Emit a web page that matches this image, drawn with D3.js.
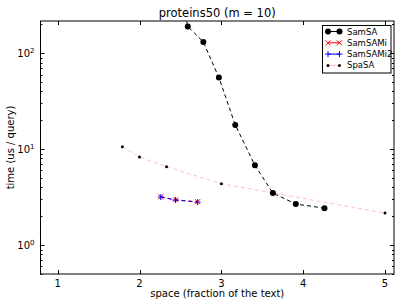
<!DOCTYPE html>
<html>
<head>
<meta charset="utf-8">
<script src="https://cdn.jsdelivr.net/npm/d3@7"></script>
<style>
  body { margin: 0; background: #fff; }
  text { font-family: "DejaVu Sans", sans-serif; fill: #000; }
</style>
</head>
<body>
<div id="chart"></div>
<script>
// ---- Data ----
var samSA_x    = [2.54, 2.59, 2.78, 2.97, 3.17, 3.41, 3.63, 3.91, 4.26];
var samSA_y    = [300, 190, 131, 56, 17.9, 6.8, 3.49, 2.68, 2.43];
var samSAMi_x  = [2.26, 2.44, 2.71];
var samSAMi_y  = [3.19, 2.97, 2.83];
var samSAMi2_x = [2.26, 2.44, 2.71];
var samSAMi2_y = [3.17, 2.95, 2.81];
var spaSA_x    = [1.79, 2.0, 2.33, 3.0, 5.0];
var spaSA_y    = [10.6, 8.3, 6.57, 4.36, 2.16];
var xTicks = [1, 2, 3, 4, 5];
var yTicks = [1, 10, 100];

var W = 407, H = 305;
var pLeft = 40.5, pRight = 394, pTop = 21, pBottom = 274;

var svg = d3.select("#chart").append("svg")
    .attr("width", W).attr("height", H);

var x = d3.scaleLinear().domain([0.79, 5.11]).range([pLeft, pRight]);
var y = d3.scaleLog().domain([0.5, 217]).range([pBottom, pTop]);

svg.append("defs").append("clipPath").attr("id", "clip")
  .append("rect").attr("x", pLeft).attr("y", pTop)
  .attr("width", pRight - pLeft).attr("height", pBottom - pTop);

function zip(xs, ys) { return xs.map(function(v, i) { return {x: v, y: ys[i]}; }); }

var series = [
  {name: "SamSA",    data: zip(samSA_x, samSA_y),       line: "#000000", marker: "circle", mcol: "#000"},
  {name: "SamSAMi",  data: zip(samSAMi_x, samSAMi_y),   line: "#ff0000", marker: "x",      mcol: "#ff0000"},
  {name: "SamSAMi2", data: zip(samSAMi2_x, samSAMi2_y), line: "#0000ff", marker: "plus",   mcol: "#0000ff"},
  {name: "SpaSA",    data: zip(spaSA_x, spaSA_y),       line: "#ffc0cb", marker: "dot",    mcol: "#000"}
];

var plot = svg.append("g").attr("clip-path", "url(#clip)");

var line = d3.line().x(function(d) { return x(d.x); }).y(function(d) { return y(d.y); });

function drawMarker(g, type, cx, cy, col) {
  if (type === "circle") {
    g.append("circle").attr("cx", cx).attr("cy", cy).attr("r", 3).attr("fill", "#000");
  } else if (type === "dot") {
    g.append("circle").attr("cx", cx).attr("cy", cy).attr("r", 1.5).attr("fill", "#000");
  } else if (type === "x") {
    var s = 2.5;
    g.append("path").attr("d", "M" + (cx - s) + "," + (cy - s) + "L" + (cx + s) + "," + (cy + s) +
      "M" + (cx - s) + "," + (cy + s) + "L" + (cx + s) + "," + (cy - s))
      .attr("stroke", col).attr("stroke-width", 1);
  } else if (type === "plus") {
    var p = 3;
    g.append("path").attr("d", "M" + (cx - p) + "," + cy + "L" + (cx + p) + "," + cy +
      "M" + cx + "," + (cy - p) + "L" + cx + "," + (cy + p))
      .attr("stroke", col).attr("stroke-width", 1);
  }
}

series.forEach(function(s) {
  plot.append("path")
    .datum(s.data)
    .attr("fill", "none")
    .attr("stroke", s.line)
    .attr("stroke-width", 1)
    .attr("stroke-dasharray", "4,3")
    .attr("d", line);
});
series.forEach(function(s) {
  s.data.forEach(function(d) { drawMarker(plot, s.marker, x(d.x), y(d.y), s.mcol); });
});

// ---- Axes frame and ticks (matplotlib style, inward) ----
var axes = svg.append("g");
axes.append("rect").attr("x", pLeft).attr("y", pTop)
  .attr("width", pRight - pLeft).attr("height", pBottom - pTop)
  .attr("fill", "none").attr("stroke", "#000").attr("stroke-width", 1);

xTicks.forEach(function(t) {
  var px = Math.round(x(t)) + 0.5;
  axes.append("line").attr("x1", px).attr("x2", px).attr("y1", pBottom).attr("y2", pBottom - 4).attr("stroke", "#000");
  axes.append("line").attr("x1", px).attr("x2", px).attr("y1", pTop).attr("y2", pTop + 4).attr("stroke", "#000");
  svg.append("text").attr("x", x(t)).attr("y", pBottom + 13)
    .attr("text-anchor", "middle").style("font-size", "10px").text(t);
});

var minor = [];
for (var e = -1; e <= 2; e++) {
  for (var m = 2; m <= 9; m++) {
    var v = m * Math.pow(10, e);
    if (v >= 0.5 && v <= 217) minor.push(v);
  }
}
minor.forEach(function(v) {
  var py = Math.round(y(v)) + 0.5;
  axes.append("line").attr("x1", pLeft).attr("x2", pLeft + 2).attr("y1", py).attr("y2", py).attr("stroke", "#000");
  axes.append("line").attr("x1", pRight).attr("x2", pRight - 2).attr("y1", py).attr("y2", py).attr("stroke", "#000");
});
yTicks.forEach(function(v) {
  var py = Math.round(y(v)) + 0.5;
  axes.append("line").attr("x1", pLeft).attr("x2", pLeft + 4).attr("y1", py).attr("y2", py).attr("stroke", "#000");
  axes.append("line").attr("x1", pRight).attr("x2", pRight - 4).attr("y1", py).attr("y2", py).attr("stroke", "#000");
  var t = svg.append("text").attr("x", pLeft - 6).attr("y", y(v) + 4)
    .attr("text-anchor", "end").style("font-size", "10px");
  t.append("tspan").text("10");
  t.append("tspan").attr("dy", -4.5).style("font-size", "7px").text(Math.round(Math.log10(v)));
});

// ---- Labels ----
svg.append("text").attr("x", (pLeft + pRight) / 2).attr("y", 17)
  .attr("text-anchor", "middle").style("font-size", "11.5px").text("proteins50 (m = 10)");
svg.append("text").attr("x", (pLeft + pRight) / 2).attr("y", 297)
  .attr("text-anchor", "middle").style("font-size", "10px").text("space (fraction of the text)");
svg.append("text")
  .attr("transform", "translate(14," + ((pTop + pBottom) / 2) + ") rotate(-90)")
  .attr("text-anchor", "middle").style("font-size", "10px").text("time (us / query)");

// ---- Legend ----
var lg = svg.append("g");
lg.append("rect").attr("x", 322.5).attr("y", 25.5).attr("width", 68.5).attr("height", 47.5)
  .attr("fill", "#fff").attr("stroke", "#000").attr("stroke-width", 1);
series.forEach(function(s, i) {
  var ly = 31.5 + i * 11.3;
  lg.append("line").attr("x1", 328).attr("x2", 339.5).attr("y1", ly).attr("y2", ly)
    .attr("stroke", s.line).attr("stroke-width", 1);
  drawMarker(lg, s.marker, 328, ly, s.mcol);
  drawMarker(lg, s.marker, 339.5, ly, s.mcol);
  lg.append("text").attr("x", 347).attr("y", ly + 3).style("font-size", "8.5px").text(s.name);
});
</script>
</body>
</html>
